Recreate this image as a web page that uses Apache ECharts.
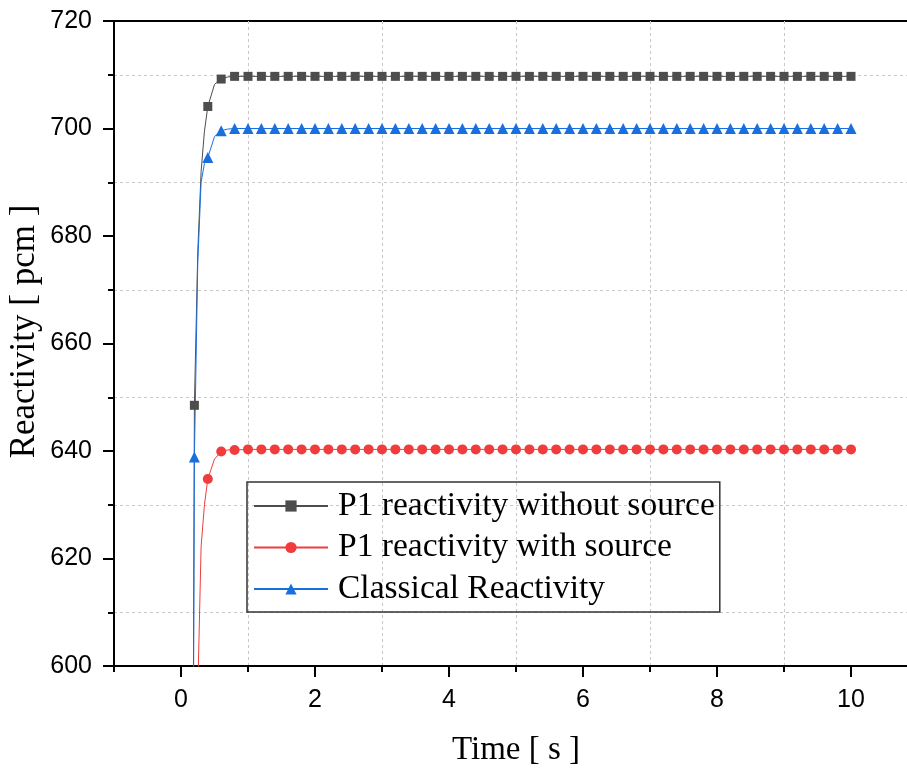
<!DOCTYPE html>
<html>
<head>
<meta charset="utf-8">
<script src="https://cdn.jsdelivr.net/npm/echarts@6/dist/echarts.min.js"></script>
<style>
html,body{margin:0;padding:0;background:#fff;}
#chart{width:907px;height:772px;}
</style>
</head>
<body>
<div id="chart"></div>
<script>
// Time [ s ]
var time = [0, 0.1, 0.2, 0.25, 0.3, 0.35, 0.4, 0.5, 0.6, 0.7, 0.8,
  1, 1.2, 1.4, 1.6, 1.8, 2, 2.2, 2.4, 2.6, 2.8,
  3, 3.2, 3.4, 3.6, 3.8, 4, 4.2, 4.4, 4.6, 4.8,
  5, 5.2, 5.4, 5.6, 5.8, 6, 6.2, 6.4, 6.6, 6.8,
  7, 7.2, 7.4, 7.6, 7.8, 8, 8.2, 8.4, 8.6, 8.8,
  9, 9.2, 9.4, 9.6, 9.8, 10];

var p1NoSource = [0, 300, 648.5, 677, 692, 699.5, 704.1, 708.2, 709.2, 709.6, 709.7,
  709.7, 709.7, 709.7, 709.7, 709.7, 709.7, 709.7, 709.7, 709.7, 709.7,
  709.7, 709.7, 709.7, 709.7, 709.7, 709.7, 709.7, 709.7, 709.7, 709.7,
  709.7, 709.7, 709.7, 709.7, 709.7, 709.7, 709.7, 709.7, 709.7, 709.7,
  709.7, 709.7, 709.7, 709.7, 709.7, 709.7, 709.7, 709.7, 709.7, 709.7,
  709.7, 709.7, 709.7, 709.7, 709.7, 709.7];

var p1WithSource = [0, 300, 567, 595, 622.2, 630, 634.8, 638.5, 639.9, 640.2, 640.2,
  640.3, 640.3, 640.3, 640.3, 640.3, 640.3, 640.3, 640.3, 640.3, 640.3,
  640.3, 640.3, 640.3, 640.3, 640.3, 640.3, 640.3, 640.3, 640.3, 640.3,
  640.3, 640.3, 640.3, 640.3, 640.3, 640.3, 640.3, 640.3, 640.3, 640.3,
  640.3, 640.3, 640.3, 640.3, 640.3, 640.3, 640.3, 640.3, 640.3, 640.3,
  640.3, 640.3, 640.3, 640.3, 640.3, 640.3];

var classical = [0, 300, 638.9, 675, 690, 693.5, 694.6, 698.5, 699.6, 699.9, 700.0,
  700.0, 700.0, 700.0, 700.0, 700.0, 700.0, 700.0, 700.0, 700.0, 700.0,
  700.0, 700.0, 700.0, 700.0, 700.0, 700.0, 700.0, 700.0, 700.0, 700.0,
  700.0, 700.0, 700.0, 700.0, 700.0, 700.0, 700.0, 700.0, 700.0, 700.0,
  700.0, 700.0, 700.0, 700.0, 700.0, 700.0, 700.0, 700.0, 700.0, 700.0,
  700.0, 700.0, 700.0, 700.0, 700.0, 700.0];

var seriesNames = ['P1 reactivity without source', 'P1 reactivity with source', 'Classical Reactivity'];
var xTickLabels = [0, 2, 4, 6, 8, 10];

function pairs(ys) { return time.map(function (t, i) { return [t, ys[i]]; }); }
function isMarker(t) { var k = t * 5; return Math.abs(k - Math.round(k)) < 1e-6; }

var serif = '"Liberation Serif", "Times New Roman", serif';
var sans = '"Liberation Sans", Arial, sans-serif';

function mkSeries(name, ys, color, symbol, size) {
  return {
    name: name,
    type: 'line',
    data: pairs(ys),
    symbol: symbol,
    symbolSize: function (v) { return isMarker(v[0]) ? size : 0; },
    showSymbol: true,
    showAllSymbol: true,
    clip: true,
    lineStyle: { color: color, width: 1 },
    itemStyle: { color: color },
    emphasis: { disabled: true },
    z: 3
  };
}

var chart = echarts.init(document.getElementById('chart'), null, { renderer: 'canvas' });
chart.setOption({
  animation: false,
  backgroundColor: '#fff',
  grid: {
    left: 114, width: 804, top: 21, height: 645,
    containLabel: false, outerBoundsMode: 'none',
    show: true, borderColor: '#000', borderWidth: 2, backgroundColor: 'transparent'
  },
  legend: {
    orient: 'vertical',
    left: 247, top: 482,
    borderColor: '#333', borderWidth: 1.5,
    padding: [7, 5, 6, 6],
    itemWidth: 74, itemHeight: 14, itemGap: 7.5,
    textStyle: { fontFamily: serif, fontSize: 33.5, color: '#000', padding: [0, 0, 0, 5] },
    data: seriesNames
  },
  xAxis: {
    type: 'value',
    min: -1, max: 11, interval: 2,
    name: 'Time [ s ]',
    nameLocation: 'middle',
    nameGap: 68,
    nameMoveOverlap: false,
    nameTextStyle: { fontFamily: serif, fontSize: 33, color: '#000' },
    axisLine: { show: true, onZero: false, lineStyle: { color: '#000', width: 2 } },
    axisTick: { show: true, inside: false, length: 6, lineStyle: { color: '#000', width: 2 } },
    minorTick: { show: true, splitNumber: 2, length: 11, lineStyle: { color: '#000', width: 2 } },
    axisLabel: { customValues: xTickLabels, margin: 22, fontFamily: sans, fontSize: 25, color: '#000' },
    splitLine: { show: true, lineStyle: { color: '#c8c8c8', width: 1, type: [3, 3] } },
    minorSplitLine: { show: false }
  },
  yAxis: {
    type: 'value',
    min: 600, max: 720, interval: 20,
    name: 'Reactivity [ pcm ]',
    nameLocation: 'middle',
    nameGap: 72,
    nameMoveOverlap: false,
    nameRotate: 90,
    nameTextStyle: { fontFamily: serif, fontSize: 35, color: '#000', padding: [0, 0, 0, 24] },
    axisLine: { show: true, onZero: false, lineStyle: { color: '#000', width: 2 } },
    axisTick: { show: true, inside: false, length: 11, lineStyle: { color: '#000', width: 2 } },
    minorTick: { show: true, splitNumber: 2, length: 6, lineStyle: { color: '#000', width: 2 } },
    axisLabel: { margin: 22, fontFamily: sans, fontSize: 25, color: '#000' },
    splitLine: { show: false },
    minorSplitLine: { show: true, lineStyle: { color: '#c8c8c8', width: 1, type: [3, 3] } }
  },
  series: [
    mkSeries(seriesNames[0], p1NoSource, '#4d4d4d', 'rect', 9),
    mkSeries(seriesNames[1], p1WithSource, '#f03c3c', 'circle', 10),
    mkSeries(seriesNames[2], classical, '#1a6fdf', 'triangle', 11)
  ]
});
</script>
</body>
</html>
